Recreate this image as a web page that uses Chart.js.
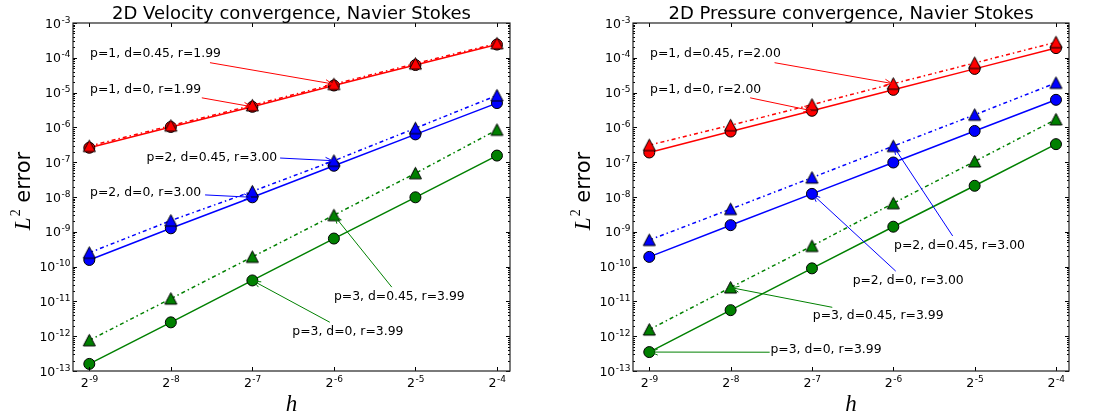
<!DOCTYPE html>
<html>
<head>
<meta charset="utf-8">
<script src="https://cdn.jsdelivr.net/npm/chart.js@4.4.1/dist/chart.umd.min.js"></script>
<style>
  body { margin: 0; background: #fff; }
  #wrap { position: relative; width: 1096px; height: 416px; }
  canvas { position: absolute; top: 0; }
</style>
</head>
<body>
<div id="wrap">
  <canvas id="velocityChart" width="548" height="416" style="left:0"></canvas>
  <canvas id="pressureChart" width="548" height="416" style="left:548px"></canvas>
</div>
<script>
// mesh sizes h = 2^-9 .. 2^-4
const hValues = [1 / 512, 1 / 256, 1 / 128, 1 / 64, 1 / 32, 1 / 16];
const hTickLabels = ['2^-9', '2^-8', '2^-7', '2^-6', '2^-5', '2^-4'];
const errDecades = [1e-13, 1e-12, 1e-11, 1e-10, 1e-9, 1e-8, 1e-7, 1e-6, 1e-5, 1e-4, 1e-3];
const errTickLabels = ['10^-13', '10^-12', '10^-11', '10^-10', '10^-9', '10^-8', '10^-7', '10^-6', '10^-5', '10^-4', '10^-3'];

// velocity L2 errors
const velP1d0  = [2.6e-7, 1.03e-6, 3.9e-6, 1.6e-5, 6.2e-5, 2.4e-4];
const velP1d45 = [2.9e-7, 1.12e-6, 4.3e-6, 1.75e-5, 6.8e-5, 2.6e-4];
const velP2d0  = [1.55e-10, 1.26e-9, 9.8e-9, 7.9e-8, 6.3e-7, 5.0e-6];
const velP2d45 = [2.5e-10, 2.1e-9, 1.45e-8, 1.1e-7, 9.5e-7, 8.3e-6];
const velP3d0  = [1.6e-13, 2.5e-12, 4.0e-11, 6.4e-10, 9.8e-9, 1.55e-7];
const velP3d45 = [7.6e-13, 1.2e-11, 1.9e-10, 3.0e-9, 4.8e-8, 8.5e-7];

// pressure L2 errors
const presP1d0  = [1.9e-7, 7.6e-7, 3.0e-6, 1.2e-5, 4.8e-5, 1.9e-4];
const presP1d45 = [3.1e-7, 1.15e-6, 4.5e-6, 1.8e-5, 7.1e-5, 2.8e-4];
const presP2d0  = [1.9e-10, 1.55e-9, 1.23e-8, 9.8e-8, 7.9e-7, 6.2e-6];
const presP2d45 = [5.8e-10, 4.5e-9, 3.6e-8, 2.9e-7, 2.3e-6, 1.9e-5];
const presP3d0  = [3.5e-13, 5.6e-12, 8.9e-11, 1.4e-9, 2.1e-8, 3.3e-7];
const presP3d45 = [1.55e-12, 2.5e-11, 3.9e-10, 6.6e-9, 1.05e-7, 1.7e-6];

// annotations: series = dataset index, point = index in hValues,
// at / from = [log2 h, log10 err] of label and arrow tail
const velNotes = [
  { text: 'p=1, d=0.45, r=1.99', series: 1, point: 3, at: [-8.99, -3.88], from: [-7.52, -4.14] },
  { text: 'p=1, d=0, r=1.99',    series: 0, point: 2, at: [-8.99, -4.92], from: [-7.62, -5.15] },
  { text: 'p=2, d=0.45, r=3.00', series: 3, point: 3, at: [-8.30, -6.88], from: [-6.66, -6.88] },
  { text: 'p=2, d=0, r=3.00',    series: 2, point: 2, at: [-8.99, -7.89], from: [-7.58, -7.94] },
  { text: 'p=3, d=0.45, r=3.99', series: 5, point: 3, at: [-6.00, -10.88], from: [-5.29, -10.59] },
  { text: 'p=3, d=0, r=3.99',    series: 4, point: 2, at: [-6.51, -11.86], from: [-6.05, -11.60] }
];
const presNotes = [
  { text: 'p=1, d=0.45, r=2.00', series: 1, point: 3, at: [-8.99, -3.88], from: [-7.46, -4.14] },
  { text: 'p=1, d=0, r=2.00',    series: 0, point: 2, at: [-8.99, -4.92], from: [-7.76, -5.15] },
  { text: 'p=2, d=0.45, r=3.00', series: 3, point: 3, at: [-5.99, -9.41], from: [-5.27, -9.12] },
  { text: 'p=2, d=0, r=3.00',    series: 2, point: 2, at: [-6.50, -10.42], from: [-5.97, -10.13] },
  { text: 'p=3, d=0.45, r=3.99', series: 5, point: 1, at: [-6.99, -11.40], from: [-6.75, -11.17] },
  { text: 'p=3, d=0, r=3.99',    series: 4, point: 0, at: [-7.51, -12.40], from: [-7.52, -12.46] }
];

const RED = '#ff0000', BLUE = '#0000ff', GREEN = '#008000';

// matplotlib style '^' marker
function triangleMarker(color) {
    const c = document.createElement('canvas');
    c.width = 15; c.height = 15;
    const g = c.getContext('2d');
    g.beginPath();
    g.moveTo(7.5, 1.5);
    g.lineTo(1.5, 13);
    g.lineTo(13.5, 13);
    g.closePath();
    g.fillStyle = color;
    g.fill();
    g.lineWidth = 1;
    g.strokeStyle = '#000';
    g.stroke();
    return c;
}

function circleSet(vals, color) {
    return {
        data: hValues.map((h, i) => ({ x: h, y: vals[i] })),
        borderColor: color,
        borderWidth: 1.5,
        pointBackgroundColor: color,
        pointBorderColor: '#000',
        pointBorderWidth: 1,
        pointRadius: 5.5,
        order: 1
    };
}

function triangleSet(vals, color) {
    return {
        data: hValues.map((h, i) => ({ x: h, y: vals[i] })),
        borderColor: color,
        borderWidth: 1.5,
        borderDash: [4, 3, 1.5, 3],
        pointStyle: triangleMarker(color),
        pointRadius: 6,
        order: 0
    };
}

function drawArrow(ctx, sx, sy, ex, ey, color) {
    const ang = Math.atan2(ey - sy, ex - sx);
    ex -= Math.cos(ang) * 1.5;
    ey -= Math.sin(ang) * 1.5;
    ctx.strokeStyle = color;
    ctx.lineWidth = 1;
    ctx.beginPath();
    ctx.moveTo(sx, sy);
    ctx.lineTo(ex, ey);
    ctx.moveTo(ex - 7 * Math.cos(ang) + 3 * Math.sin(ang), ey - 7 * Math.sin(ang) - 3 * Math.cos(ang));
    ctx.lineTo(ex, ey);
    ctx.lineTo(ex - 7 * Math.cos(ang) - 3 * Math.sin(ang), ey - 7 * Math.sin(ang) + 3 * Math.cos(ang));
    ctx.stroke();
}

// "10^-8" -> base at normal size, exponent raised and smaller
const BASE_FONT = '12.5px "DejaVu Sans"', EXP_FONT = '9px "DejaVu Sans"';
function powerWidth(ctx, label) {
    const [b, e] = label.split('^');
    ctx.font = BASE_FONT; const wb = ctx.measureText(b).width;
    ctx.font = EXP_FONT; const we = ctx.measureText(e).width;
    return [wb, we];
}
function drawPower(ctx, label, left, baseline) {
    const [b, e] = label.split('^');
    const [wb] = powerWidth(ctx, label);
    ctx.font = BASE_FONT; ctx.fillText(b, left, baseline);
    ctx.font = EXP_FONT; ctx.fillText(e, left + wb + 0.5, baseline - 5);
}

const decorPlugin = {
    id: 'decor',
    afterDraw(chart, args, opts) {
        const { ctx, chartArea: a, scales: { x, y } } = chart;
        ctx.save();

        // ticks pointing inwards on all four sides
        ctx.strokeStyle = '#000';
        ctx.lineWidth = 1;
        ctx.beginPath();
        y.ticks.forEach(t => {
            const py = Math.round(y.getPixelForValue(t.value)) + 0.5;
            const len = t.major ? 4 : 2;
            ctx.moveTo(a.left, py); ctx.lineTo(a.left + len, py);
            ctx.moveTo(a.right, py); ctx.lineTo(a.right - len, py);
        });
        x.ticks.forEach(t => {
            const px = Math.round(x.getPixelForValue(t.value)) + 0.5;
            ctx.moveTo(px, a.top); ctx.lineTo(px, a.top + 4);
            ctx.moveTo(px, a.bottom); ctx.lineTo(px, a.bottom - 4);
        });
        ctx.stroke();

        ctx.lineWidth = 1.2;
        ctx.strokeStyle = '#222';
        ctx.strokeRect(a.left, a.top, a.right - a.left, a.bottom - a.top);

        // tick labels
        ctx.fillStyle = '#000';
        ctx.textAlign = 'left';
        ctx.textBaseline = 'alphabetic';
        y.ticks.forEach(t => {
            if (!t.major) return;
            const [wb, we] = powerWidth(ctx, t.text);
            drawPower(ctx, t.text, a.left - 3 - wb - we, y.getPixelForValue(t.value) + 4.5);
        });
        x.ticks.forEach(t => {
            const [wb, we] = powerWidth(ctx, t.text);
            drawPower(ctx, t.text, x.getPixelForValue(t.value) - (wb + we) / 2, a.bottom + 16);
        });

        // annotations
        ctx.font = '12.4px "DejaVu Sans"';
        ctx.textBaseline = 'middle';
        opts.notes.forEach(n => {
            const el = chart.getDatasetMeta(n.series).data[n.point];
            const color = chart.data.datasets[n.series].borderColor;
            const sx = x.getPixelForValue(2 ** n.from[0]);
            const sy = y.getPixelForValue(10 ** n.from[1]);
            drawArrow(ctx, sx, sy, el.x, el.y, color);
            ctx.fillStyle = '#000';
            ctx.fillText(n.text, x.getPixelForValue(2 ** n.at[0]), y.getPixelForValue(10 ** n.at[1]));
        });

        // title
        const cx = (a.left + a.right) / 2;
        ctx.fillStyle = '#000';
        ctx.textAlign = 'center';
        ctx.textBaseline = 'alphabetic';
        ctx.font = '18px "DejaVu Sans"';
        ctx.fillText(opts.title, cx, 19);

        // x axis title
        ctx.font = 'italic 23px "Liberation Serif"';
        ctx.fillText('h', cx, 411);

        // y axis title: L^2 error
        ctx.translate(a.left - 43, (a.top + a.bottom) / 2 - 6);
        ctx.rotate(-Math.PI / 2);
        ctx.textAlign = 'left';
        const fL = 'italic 23px "Liberation Serif"', fS = '14px "Liberation Serif"', fE = '21px "DejaVu Sans"';
        ctx.font = fL; const wL = ctx.measureText('L').width;
        ctx.font = fS; const wS = ctx.measureText('2').width;
        ctx.font = fE; const wE = ctx.measureText(' error').width;
        let px = -(wL + wS + wE + 1) / 2;
        ctx.font = fL; ctx.fillText('L', px, 0); px += wL + 1;
        ctx.font = fS; ctx.fillText('2', px, -10); px += wS;
        ctx.font = fE; ctx.fillText(' error', px, 0);

        ctx.restore();
    }
};

Chart.defaults.font.family = '"DejaVu Sans"';
Chart.defaults.font.size = 12;
Chart.defaults.color = '#000';

function makeChart(canvasId, title, series, notes, axisWidth, padRight) {
    const ctx = document.getElementById(canvasId).getContext('2d');
    return new Chart(ctx, {
        type: 'line',
        data: {
            datasets: [
                circleSet(series[0], RED), triangleSet(series[1], RED),
                circleSet(series[2], BLUE), triangleSet(series[3], BLUE),
                circleSet(series[4], GREEN), triangleSet(series[5], GREEN)
            ]
        },
        options: {
            responsive: false,
            animation: false,
            devicePixelRatio: 1,
            layout: { padding: { top: 23, right: padRight, left: 0, bottom: 0 } },
            elements: { line: { tension: 0 } },
            plugins: {
                legend: { display: false },
                tooltip: { enabled: false },
                decor: { title: title, notes: notes }
            },
            scales: {
                x: {
                    type: 'logarithmic',
                    min: 2 ** -9.2,
                    max: 2 ** -3.84,
                    grid: { display: false, drawTicks: false },
                    border: { display: false },
                    afterBuildTicks: s => {
                        s.ticks = hValues.map((v, i) => ({ value: v, major: true, text: hTickLabels[i] }));
                    },
                    afterFit: s => { s.height = 45; },
                    ticks: { display: false, autoSkip: false }
                },
                y: {
                    type: 'logarithmic',
                    min: 1e-13,
                    max: 1e-3,
                    grid: { display: false, drawTicks: false },
                    border: { display: false },
                    afterBuildTicks: s => {
                        const t = [];
                        errDecades.forEach((d, i) => {
                            t.push({ value: d, major: true, text: errTickLabels[i] });
                            if (i < errDecades.length - 1) {
                                for (let k = 2; k <= 9; k++) t.push({ value: k * d, major: false, text: '' });
                            }
                        });
                        s.ticks = t;
                    },
                    afterFit: s => { s.width = axisWidth; },
                    ticks: { display: false, autoSkip: false }
                }
            }
        },
        plugins: [decorPlugin]
    });
}

makeChart('velocityChart', '2D Velocity convergence, Navier Stokes',
    [velP1d0, velP1d45, velP2d0, velP2d45, velP3d0, velP3d45], velNotes, 73, 38);
makeChart('pressureChart', '2D Pressure convergence, Navier Stokes',
    [presP1d0, presP1d45, presP2d0, presP2d45, presP3d0, presP3d45], presNotes, 85, 27);
</script>
</body>
</html>
